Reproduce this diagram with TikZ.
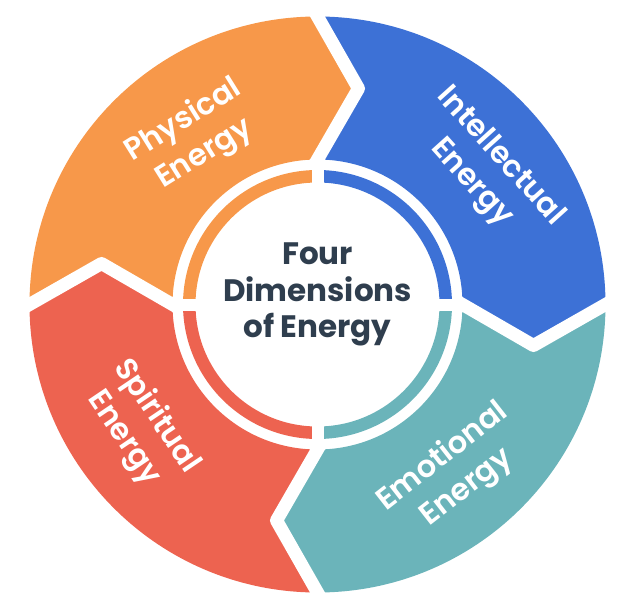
\documentclass[tikz,border=0pt]{standalone}
\usepackage{fontspec}
\setmainfont{Poppins}
\newfontfamily\medf{Poppins SemiBold}
\usetikzlibrary{calc}
\definecolor{corange}{HTML}{F7984A}
\definecolor{cblue}{HTML}{3D71D6}
\definecolor{cteal}{HTML}{6BB4BA}
\definecolor{cred}{HTML}{ED6350}
\definecolor{cdark}{HTML}{2F3E4E}
\newcommand\energyseg[3]{%
  \fill[#3] (#1:\Ri) -- (apx#1) -- (#1:\Ro)
    arc[start angle=#1, end angle=#2, radius=\Ro] -- (apx#2) -- (#2:\Ri)
    arc[start angle=#2, end angle=#1, radius=\Ri] -- cycle;}
\begin{document}
\begin{tikzpicture}[x=1pt,y=1pt,
  lbl/.style={text=white, align=center, inner sep=0pt, font=\medf\fontsize{30.5}{39}\selectfont},
  ttl/.style={text=cdark, align=center, inner sep=0pt, font=\bfseries\fontsize{31}{36.5}\selectfont},
  sepline/.style={white, line width=13pt, line join=round},
  ringarc/.style={line width=12.5pt}]
\useasboundingbox (-317.5,-303.5) rectangle (316.5,304.5);
\def\Ro{288}\def\Ri{145}
\coordinate (apx90) at (41,216);
\coordinate (apx0) at (216,-41);
\coordinate (apx360) at (216,-41);
\coordinate (apx270) at (-41,-216);
\coordinate (apx180) at (-216,41);
% outer segments
\energyseg{180}{90}{corange}
\energyseg{90}{0}{cblue}
\energyseg{360}{270}{cteal}
\energyseg{270}{180}{cred}
% chevron separators
\foreach \a in {0,90,180,270}{
  \draw[sepline] ($(\a:\Ri)!-0.08!(apx\a)$) -- (apx\a) -- ($(apx\a)!1.2!(\a:\Ro)$);
}
% inner ring
\draw[ringarc, corange] (90:128.25) arc[start angle=90, end angle=180, radius=128.25];
\draw[ringarc, cblue] (0:128.25) arc[start angle=0, end angle=90, radius=128.25];
\draw[ringarc, cteal] (270:128.25) arc[start angle=270, end angle=360, radius=128.25];
\draw[ringarc, cred] (180:128.25) arc[start angle=180, end angle=270, radius=128.25];
\draw[white, line width=12pt] (-140,0) -- (140,0);
\draw[white, line width=12pt] (0,-140) -- (0,140);
% texts
\node[ttl] (title) at (0,10) {Four\\Dimensions\\of Energy};
\node[lbl, rotate=32] (phys) at (-123.5,167) {Physical\\Energy};
\node[lbl, rotate=-48] (intel) at (168,134.5) {Intellectual\\Energy};
\node[lbl, rotate=38] (emot) at (137.5,-168) {Emotional\\Energy};
\node[lbl, rotate=-56] (spir) at (-177.5,-123) {Spiritual\\Energy};
\end{tikzpicture}
\end{document}
